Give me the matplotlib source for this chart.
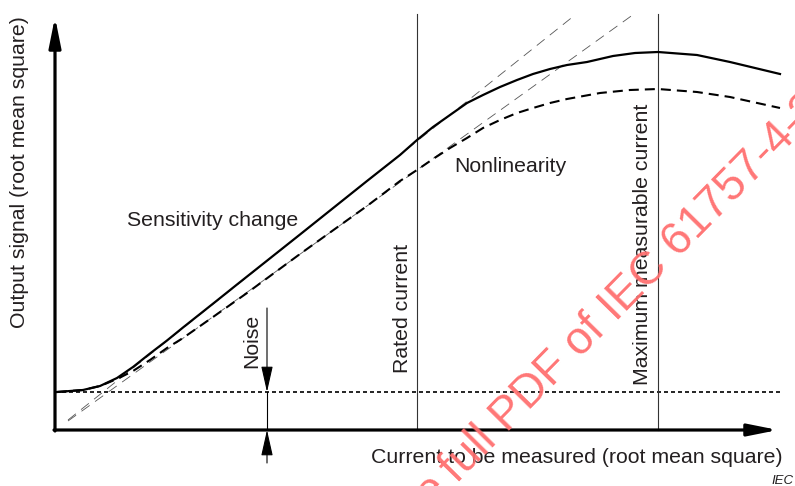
"""Schematic: output signal versus measured current (sensitivity change, nonlinearity, noise)."""

import matplotlib

matplotlib.use("Agg")
import matplotlib.pyplot as plt

# Values, in drawing units (origin at the axes crossing).
current_solid = [2, 28, 45, 62, 78, 95, 112, 128, 145, 162, 182, 245, 312, 345,
                 362, 378, 395, 412, 428, 445, 462, 478, 495, 512, 532, 558,
                 580, 603, 642, 675, 725]
signal_solid = [38, 40, 44, 52, 63, 76.5, 89.5, 102.5, 116, 129.5, 145.5, 195.5, 249, 275,
                290, 303, 315, 327, 335, 343, 350, 356, 361, 365, 368, 374,
                377, 378, 375, 368, 356]

current_dashed = [2, 28, 45, 62, 78, 95, 112, 128, 158, 192, 245, 312, 345,
                  362, 378, 395, 412, 428, 445, 462, 478, 495, 512, 545, 575,
                  603, 642, 675, 725]
signal_dashed = [38, 40, 44, 51, 59, 70, 82, 92, 113, 137, 176, 224, 249,
                 260, 271, 282, 292, 302, 310, 317, 322, 327, 331, 337, 340,
                 341, 338, 333, 322]

# Straight reference lines (initial sensitivity of each curve)
tangent_x = [[13, 520], [13, 579]]
tangent_y = [[10, 415], [9, 416]]

noise_level = 38
rated_current = 362
max_current = 603
axis_x_end = 723
axis_y_end = 413
top_of_markers = 416
noise_arrow_x = 212

plt.rcParams["font.family"] = ["Liberation Sans", "DejaVu Sans"]
TXT = "#231f20"

fig = plt.figure(figsize=(7.95, 4.86), dpi=100)
ax = fig.add_axes([0, 0, 1, 1])
ax.set_xlim(-55, 740)
ax.set_ylim(-56, 430)
ax.axis("off")

# reference tangents
for xs, ys in zip(tangent_x, tangent_y):
    ax.plot(xs, ys, color="#555555", lw=0.6, dashes=(12, 8))

# noise floor and markers
ax.plot([0, 725], [noise_level, noise_level], color="black", lw=1.2, dashes=(2.4, 1.8))
for xv in (rated_current, max_current):
    ax.plot([xv, xv], [0, top_of_markers], color="#333333", lw=0.8)

# curves
ax.plot(current_solid, signal_solid, color="black", lw=1.6, solid_joinstyle="round")
ax.plot(current_dashed, signal_dashed, color="black", lw=1.5, dashes=(4.8, 2.9))

# axes with arrows
axis_arrow = dict(arrowstyle="-|>,head_length=1.8,head_width=0.36", lw=2.3,
                  color="black", shrinkA=0, shrinkB=0, mutation_scale=10)
ax.annotate("", xy=(axis_x_end, 0), xytext=(-1, 0), arrowprops=axis_arrow)
ax.annotate("", xy=(0, axis_y_end), xytext=(0, -1), arrowprops=axis_arrow)

# noise arrows, joined by a line through the noise band
noise_arrow = dict(arrowstyle="-|>,head_length=2.0,head_width=0.45", lw=0.8,
                   color="black", shrinkA=0, shrinkB=0, mutation_scale=8)
ax.plot([noise_arrow_x, noise_arrow_x], [0, noise_level], color="black", lw=0.8)
ax.annotate("", xy=(noise_arrow_x, noise_level), xytext=(noise_arrow_x, 122),
            arrowprops=noise_arrow)
ax.annotate("", xy=(noise_arrow_x, 0), xytext=(noise_arrow_x, -33),
            arrowprops=noise_arrow)

fs = 15.3
ax.text(-35, 258, "Output signal (root mean square)", rotation=90, ha="center",
        va="center", fontsize=fs, color=TXT)
ax.text(728, -27, "Current to be measured (root mean square)", ha="right",
        va="center", fontsize=fs, color=TXT)
ax.text(158, 210, "Sensitivity change", ha="center", va="center", fontsize=fs, color=TXT)
ax.text(455, 263, "Nonlinearity", ha="center", va="center", fontsize=fs, color=TXT)
ax.text(348, 57, "Rated current", rotation=90, ha="center", va="bottom",
        fontsize=fs, color=TXT)
ax.text(587, 45, "Maximum measurable current", rotation=90, ha="center",
        va="bottom", fontsize=fs, color=TXT)
ax.text(197, 89, "Noise", rotation=90, ha="center", va="center", fontsize=fs, color=TXT)
ax.text(716, -51, "IEC", ha="left", va="center", fontsize=9.5, style="italic", color=TXT)

# watermark
wm = dict(rotation=45.5, rotation_mode="anchor", fontsize=33, color="#ff6f6f",
          va="baseline", alpha=0.95)
ax.text(402, -54, "full PDF of IEC 61757-4-3:2020", ha="left", **wm)
ax.text(395, -61, "view the", ha="right", **wm)

fig.savefig("out.png", dpi=100)
